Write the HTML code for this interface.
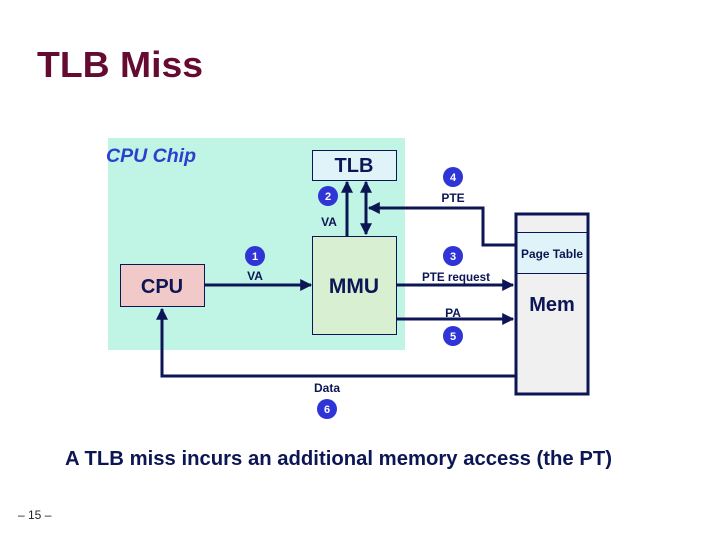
<!DOCTYPE html>
<html><head><meta charset="utf-8"><style>
html,body{margin:0;padding:0;background:#fff;}
svg{display:block;}
text{font-family:"Liberation Sans",sans-serif;}
</style></head><body>
<svg width="720" height="540" viewBox="0 0 720 540" xmlns="http://www.w3.org/2000/svg">
<defs>
<marker id="ah" viewBox="0 0 10 10" refX="9" refY="5" markerWidth="4" markerHeight="4" orient="auto-start-reverse" markerUnits="strokeWidth">
<path d="M0,0 L10,5 L0,10 z" fill="#0d1654"/></marker>
</defs>
<text x="37" y="77" font-size="36" font-weight="bold" fill="#650a30" textLength="166" lengthAdjust="spacingAndGlyphs">TLB Miss</text>
<rect x="108" y="138" width="297" height="212" fill="#c0f5e6"/>
<text x="106" y="162" font-size="19" font-style="italic" font-weight="bold" fill="#2f3fcc" textLength="90" lengthAdjust="spacingAndGlyphs">CPU Chip</text>
<rect x="312.5" y="150.5" width="84" height="30" fill="#dff3f8" stroke="#0d1654" stroke-width="1"/>
<text x="354" y="172" font-size="20" font-weight="bold" text-anchor="middle" fill="#0d1654">TLB</text>
<rect x="120.5" y="264.5" width="84" height="42" fill="#f2c9c9" stroke="#0d1654" stroke-width="1"/>
<text x="162" y="293" font-size="20" font-weight="bold" text-anchor="middle" fill="#0d1654">CPU</text>
<rect x="312.5" y="236.5" width="84" height="98" fill="#d9efd2" stroke="#0d1654" stroke-width="1"/>
<text x="354" y="293" font-size="21" font-weight="bold" text-anchor="middle" fill="#0d1654">MMU</text>
<rect x="516" y="214" width="72" height="180" fill="#f0f0f0" stroke="#0d1654" stroke-width="3"/>
<rect x="517" y="232.5" width="70" height="41" fill="#dff3f8" stroke="#0d1654" stroke-width="1"/>
<text x="552" y="258" font-size="12" font-weight="bold" text-anchor="middle" fill="#0d1654" textLength="62" lengthAdjust="spacingAndGlyphs">Page Table</text>
<text x="552" y="311" font-size="20" font-weight="bold" text-anchor="middle" fill="#0d1654">Mem</text>
<g stroke="#0d1654" stroke-width="3" fill="none">
<line x1="205" y1="285" x2="311" y2="285" marker-end="url(#ah)"/>
<line x1="347" y1="236" x2="347" y2="182" marker-end="url(#ah)"/>
<line x1="366" y1="182" x2="366" y2="234" marker-start="url(#ah)" marker-end="url(#ah)"/>
<polyline points="515,245 483,245 483,208 369,208" marker-end="url(#ah)"/>
<line x1="397" y1="285" x2="513" y2="285" marker-end="url(#ah)"/>
<line x1="397" y1="319" x2="513" y2="319" marker-end="url(#ah)"/>
<polyline points="515,376 162,376 162,309" marker-end="url(#ah)"/>
</g>
<g fill="#2e34d6">
<circle cx="255" cy="256" r="10"/><circle cx="328" cy="196" r="10"/>
<circle cx="453" cy="256" r="10"/><circle cx="453" cy="177" r="10"/>
<circle cx="453" cy="336" r="10"/><circle cx="327" cy="409" r="10"/>
</g>
<g fill="#fff" font-size="11" font-weight="bold" text-anchor="middle">
<text x="255" y="260">1</text><text x="328" y="200">2</text><text x="453" y="260">3</text>
<text x="453" y="181">4</text><text x="453" y="340">5</text><text x="327" y="413">6</text>
</g>
<g fill="#0d1654" font-size="12" font-weight="bold" text-anchor="middle">
<text x="255" y="280">VA</text><text x="329" y="226">VA</text><text x="453" y="202">PTE</text>
<text x="456" y="281" textLength="68" lengthAdjust="spacingAndGlyphs">PTE request</text><text x="453" y="317">PA</text><text x="327" y="392">Data</text>
</g>
<text x="65" y="465" font-size="20" font-weight="bold" fill="#0d1654" textLength="547" lengthAdjust="spacingAndGlyphs">A TLB miss incurs an additional memory access (the PT)</text>
<text x="18" y="519" font-size="12" fill="#222">– 15 –</text>
</svg>
</body></html>
